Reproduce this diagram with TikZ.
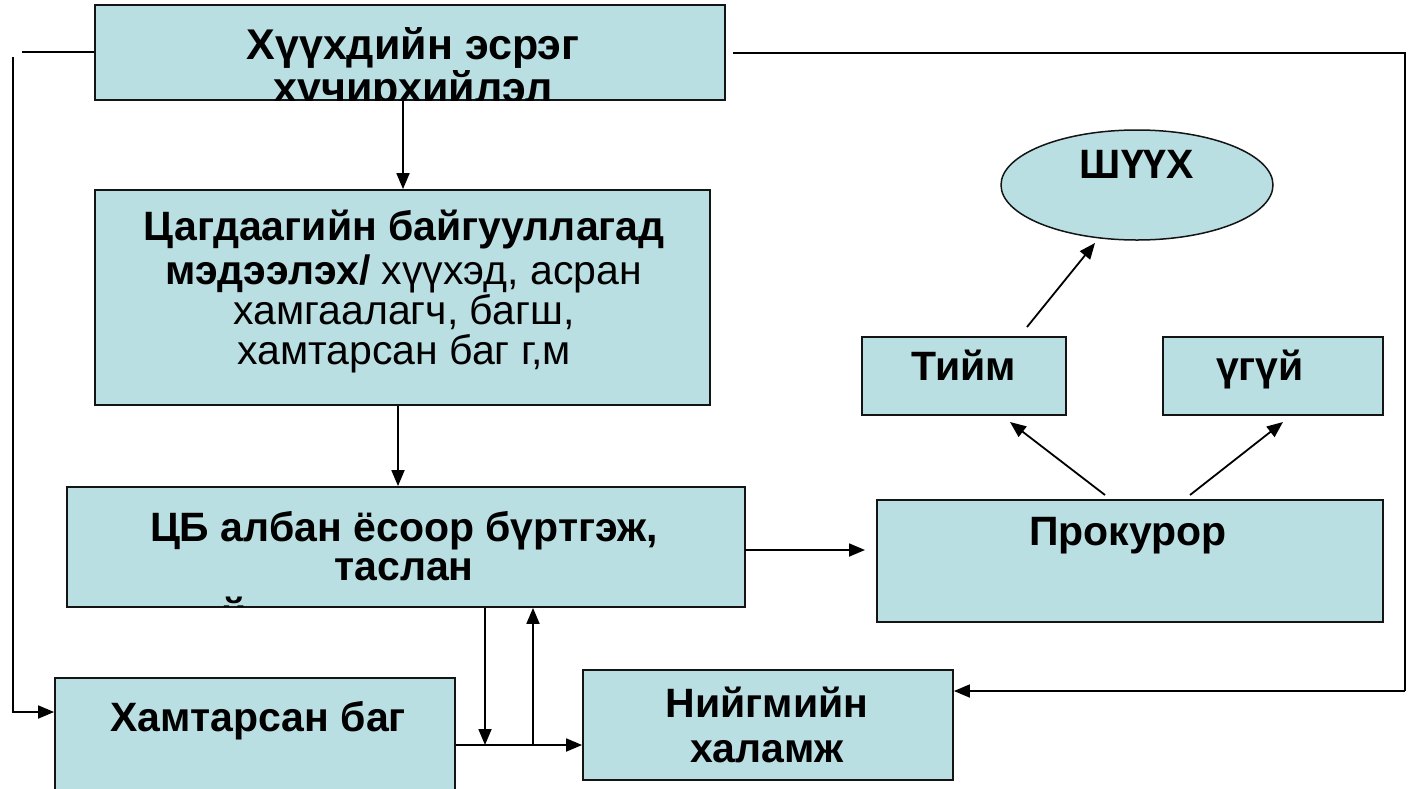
\documentclass[tikz,border=0pt]{standalone}
\usepackage{fontspec}
\setmainfont{Liberation Sans}
\usetikzlibrary{shapes.geometric,arrows.meta}
\definecolor{boxfill}{RGB}{185,223,227}
\definecolor{boxline}{RGB}{20,20,20}
\tikzset{
  x=1pt,y=-1pt,
  box/.style={draw=boxline,line width=1.8pt,fill=boxfill,rectangle,inner sep=0pt},
  oval/.style={draw=boxline,line width=1.5pt,fill=boxfill,ellipse,inner sep=0pt},
  lbl/.style={anchor=base,inner sep=0pt,font=\fontsize{41}{48}\selectfont\bfseries},
  lblr/.style={anchor=base,inner sep=0pt,font=\fontsize{41}{48}\selectfont},
  conn/.style={line width=1.8pt,black},
  arr/.style={conn,-{Triangle[length=16pt,width=13pt]}}
}
\begin{document}
\begin{tikzpicture}
\useasboundingbox (0,0) rectangle (1414,788);
% boxes
\node[box,minimum width=630pt,minimum height=95pt] (A) at (410,52.5) {};
\node[box,minimum width=615pt,minimum height=215pt] (B) at (402.5,297.5) {};
\node[box,minimum width=678pt,minimum height=120pt] (C) at (406,547) {};
\node[box,minimum width=506pt,minimum height=122pt] (D) at (1130,561) {};
\node[box,minimum width=204pt,minimum height=78pt] (T) at (964,376) {};
\node[box,minimum width=220pt,minimum height=78pt] (U) at (1273,376) {};
\node[oval,minimum width=272pt,minimum height=110pt] (S) at (1137,185) {};
\node[box,minimum width=400pt,minimum height=112pt] (E) at (255,734) {};
\node[box,minimum width=370pt,minimum height=110pt] (F) at (768,725) {};
% texts
\begin{scope}
\clip (95,5) rectangle (725,100);
\node[lbl,font=\fontsize{43}{50}\selectfont\bfseries] (a1) at (413,59) {Хүүхдийн эсрэг};
\node[lbl,font=\fontsize{43}{50}\selectfont\bfseries] (a2) at (413,102) {хүчирхийлэл};
\end{scope}
\node[lbl] (b1) at (404,240) {Цагдаагийн байгууллагад};
\node[anchor=base,inner sep=0pt] (b2) at (404,284) {\fontsize{41}{48}\selectfont\textbf{мэдээлэх/} хүүхэд, асран};
\node[lblr] (b3) at (404,324) {хамгаалагч, багш,};
\node[lblr] (b4) at (404,364) {хамтарсан баг г,м};
\node[lbl] (c1) at (404,541) {ЦБ албан ёсоор бүртгэж,};
\node[lbl] (c2) at (404,580) {таслан};
\begin{scope}
\clip (67,487) rectangle (745,606);
\node[lbl] (c3) at (234,627) {й};
\end{scope}
\node[lbl] (d1) at (1128,545) {Прокурор};
\node[lbl] (t1) at (964,380) {Тийм};
\node[lbl] (u1) at (1260,380) {үгүй};
\node[lbl] (s1) at (1137,178) {ШҮҮХ};
\node[lbl] (e1) at (258,731) {Хамтарсан баг};
\node[lbl] (f1) at (767,717) {Нийгмийн};
\node[lbl] (f2) at (767,762) {халамж};
% connector end points
\coordinate (cd1) at (745,550);
\coordinate (cd2) at (865,550);
\coordinate (dt1) at (1105,495);
\coordinate (dt2) at (1010,422);
\coordinate (du1) at (1190,495);
\coordinate (du2) at (1283,422);
\coordinate (ts1) at (1027,327);
\coordinate (ts2) at (1095,243);
\coordinate (L1) at (22,52);
\coordinate (L2) at (13,57);
\coordinate (L3) at (13,712);
\coordinate (R1) at (733,53);
\coordinate (R2) at (1405,53);
\coordinate (R3) at (1405,691);
\coordinate (J1) at (485,745);
\coordinate (J2) at (533,745);
% connectors
\draw[arr] ([xshift=-7pt]A.south) -- ([xshift=-7pt]A.south |- B.north);
\draw[arr] ([xshift=-4.5pt]B.south) -- ([xshift=-4.5pt]B.south |- C.north);
\draw[arr] (cd1) -- (cd2);
\draw[arr] (dt1) -- (dt2);
\draw[arr] (du1) -- (du2);
\draw[arr] (ts1) -- (ts2);
\draw[conn] (A.west |- L1) -- (L1);
\draw[arr] (L2) -- (L3) -- (E.west |- L3);
\draw[conn] (R1) -- (R2) -- (R3);
\draw[arr] (R3) -- (F.east |- R3);
\draw[arr] (E.east |- J1) -- (F.west |- J1);
\draw[arr] (C.south -| J1) -- (J1);
\draw[arr] (J2) -- (C.south -| J2);
\end{tikzpicture}
\end{document}
